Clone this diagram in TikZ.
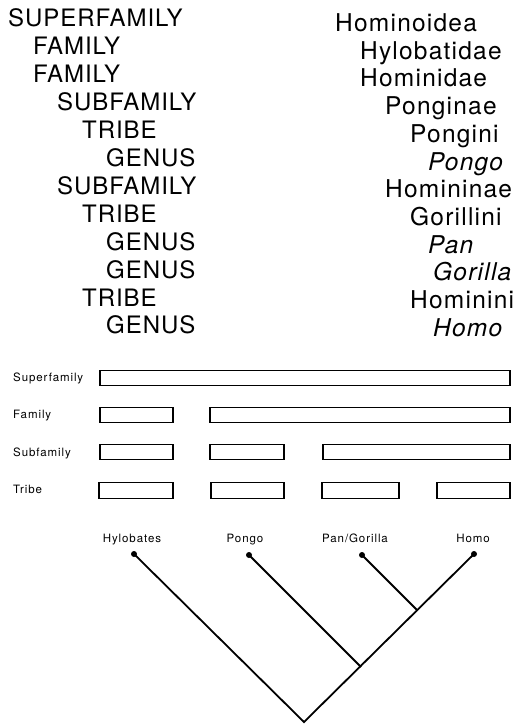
\documentclass[tikz,border=0pt]{standalone}
\usepackage{fontspec}
\setmainfont{TeX Gyre Heros}
\newfontfamily\leftf[LetterSpace=4]{TeX Gyre Heros}
\newfontfamily\rightf[LetterSpace=5]{TeX Gyre Heros}
\newfontfamily\smallf[LetterSpace=8]{TeX Gyre Heros}
\begin{document}
\begin{tikzpicture}[x=1pt,y=-1pt,
  rank/.style={anchor=base west,inner sep=0pt,font=\fontsize{24}{24}\leftf},
  taxon/.style={anchor=base west,inner sep=0pt,font=\fontsize{24.5}{24.5}\rightf},
  genusname/.style={taxon,font=\fontsize{24.5}{24.5}\rightf\itshape},
  rowlabel/.style={anchor=base west,inner sep=0pt,font=\fontsize{11.5}{11.5}\smallf},
  leaflabel/.style={anchor=base,inner sep=0pt,font=\fontsize{11.5}{11.5}\smallf},
  bar/.style={draw,line width=1.6pt},
  leaf/.style={circle,fill,inner sep=0pt,minimum size=6pt},
  branch/.style={line width=1.8pt}]
\useasboundingbox (0,0) rectangle (515,725);
% left column: ranks
\node[rank] (r1) at (8,27) {SUPERFAMILY};
\node[rank] (r2) at (33,54.9) {FAMILY};
\node[rank] (r3) at (33,82.8) {FAMILY};
\node[rank] (r4) at (57,110.7) {SUBFAMILY};
\node[rank] (r5) at (82,138.6) {TRIBE};
\node[rank] (r6) at (106,166.5) {GENUS};
\node[rank] (r7) at (57,194.4) {SUBFAMILY};
\node[rank] (r8) at (82,222.3) {TRIBE};
\node[rank] (r9) at (106,250.2) {GENUS};
\node[rank] (r10) at (106,278.1) {GENUS};
\node[rank] (r11) at (82,306) {TRIBE};
\node[rank] (r12) at (106,333.9) {GENUS};
% right column: taxa
\node[taxon] (t1) at (335,31.5) {Hominoidea};
\node[taxon] (t2) at (360,59.2) {Hylobatidae};
\node[taxon] (t3) at (360,86.9) {Hominidae};
\node[taxon] (t4) at (385,114.6) {Ponginae};
\node[taxon] (t5) at (410,142.3) {Pongini};
\node[genusname] (t6) at (428,170) {Pongo};
\node[taxon] (t7) at (385,197.7) {Homininae};
\node[taxon] (t8) at (410,225.4) {Gorillini};
\node[genusname] (t9) at (428,253.1) {Pan};
\node[genusname] (t10) at (433,280.8) {Gorilla};
\node[taxon] (t11) at (410,308.5) {Hominini};
\node[genusname] (t12) at (433,336.2) {Homo};
% box diagram
\node[rowlabel] (lsup) at (13,381) {Superfamily};
\node[rowlabel] (lfam) at (13,418.5) {Family};
\node[rowlabel] (lsub) at (13,456) {Subfamily};
\node[rowlabel] (ltri) at (13,493.5) {Tribe};
\draw[bar] (100,370.5) rectangle (510,385.5);
\draw[bar] (100,407.5) rectangle (173,422.5);
\draw[bar] (210,407.5) rectangle (510,422.5);
\draw[bar] (100,444.5) rectangle (173,459.5);
\draw[bar] (210,444.5) rectangle (284,459.5);
\draw[bar] (323,444.5) rectangle (510,459.5);
\draw[bar] (99,482.5) rectangle (173,498.5);
\draw[bar] (211,482.5) rectangle (284,498.5);
\draw[bar] (322,482.5) rectangle (399,498.5);
\draw[bar] (437,482.5) rectangle (510,498.5);
% cladogram
\node[leaflabel] (nhyl) at (132,542) {Hylobates};
\node[leaflabel] (npon) at (245,542) {Pongo};
\node[leaflabel] (npan) at (355,542) {Pan/Gorilla};
\node[leaflabel] (nhom) at (473,542) {Homo};
\node[leaf] (dhyl) at (134,554) {};
\node[leaf] (dpon) at (249,555) {};
\node[leaf] (dpan) at (362,555) {};
\node[leaf] (dhom) at (474,554) {};
\coordinate (root) at (304,722);
\coordinate (jpon) at (361,667);
\coordinate (jpan) at (417.5,610.5);
\draw[branch] (dhyl.center) -- (root) -- (dhom.center);
\draw[branch] (dpon.center) -- (jpon);
\draw[branch] (dpan.center) -- (jpan);
\end{tikzpicture}
\end{document}
